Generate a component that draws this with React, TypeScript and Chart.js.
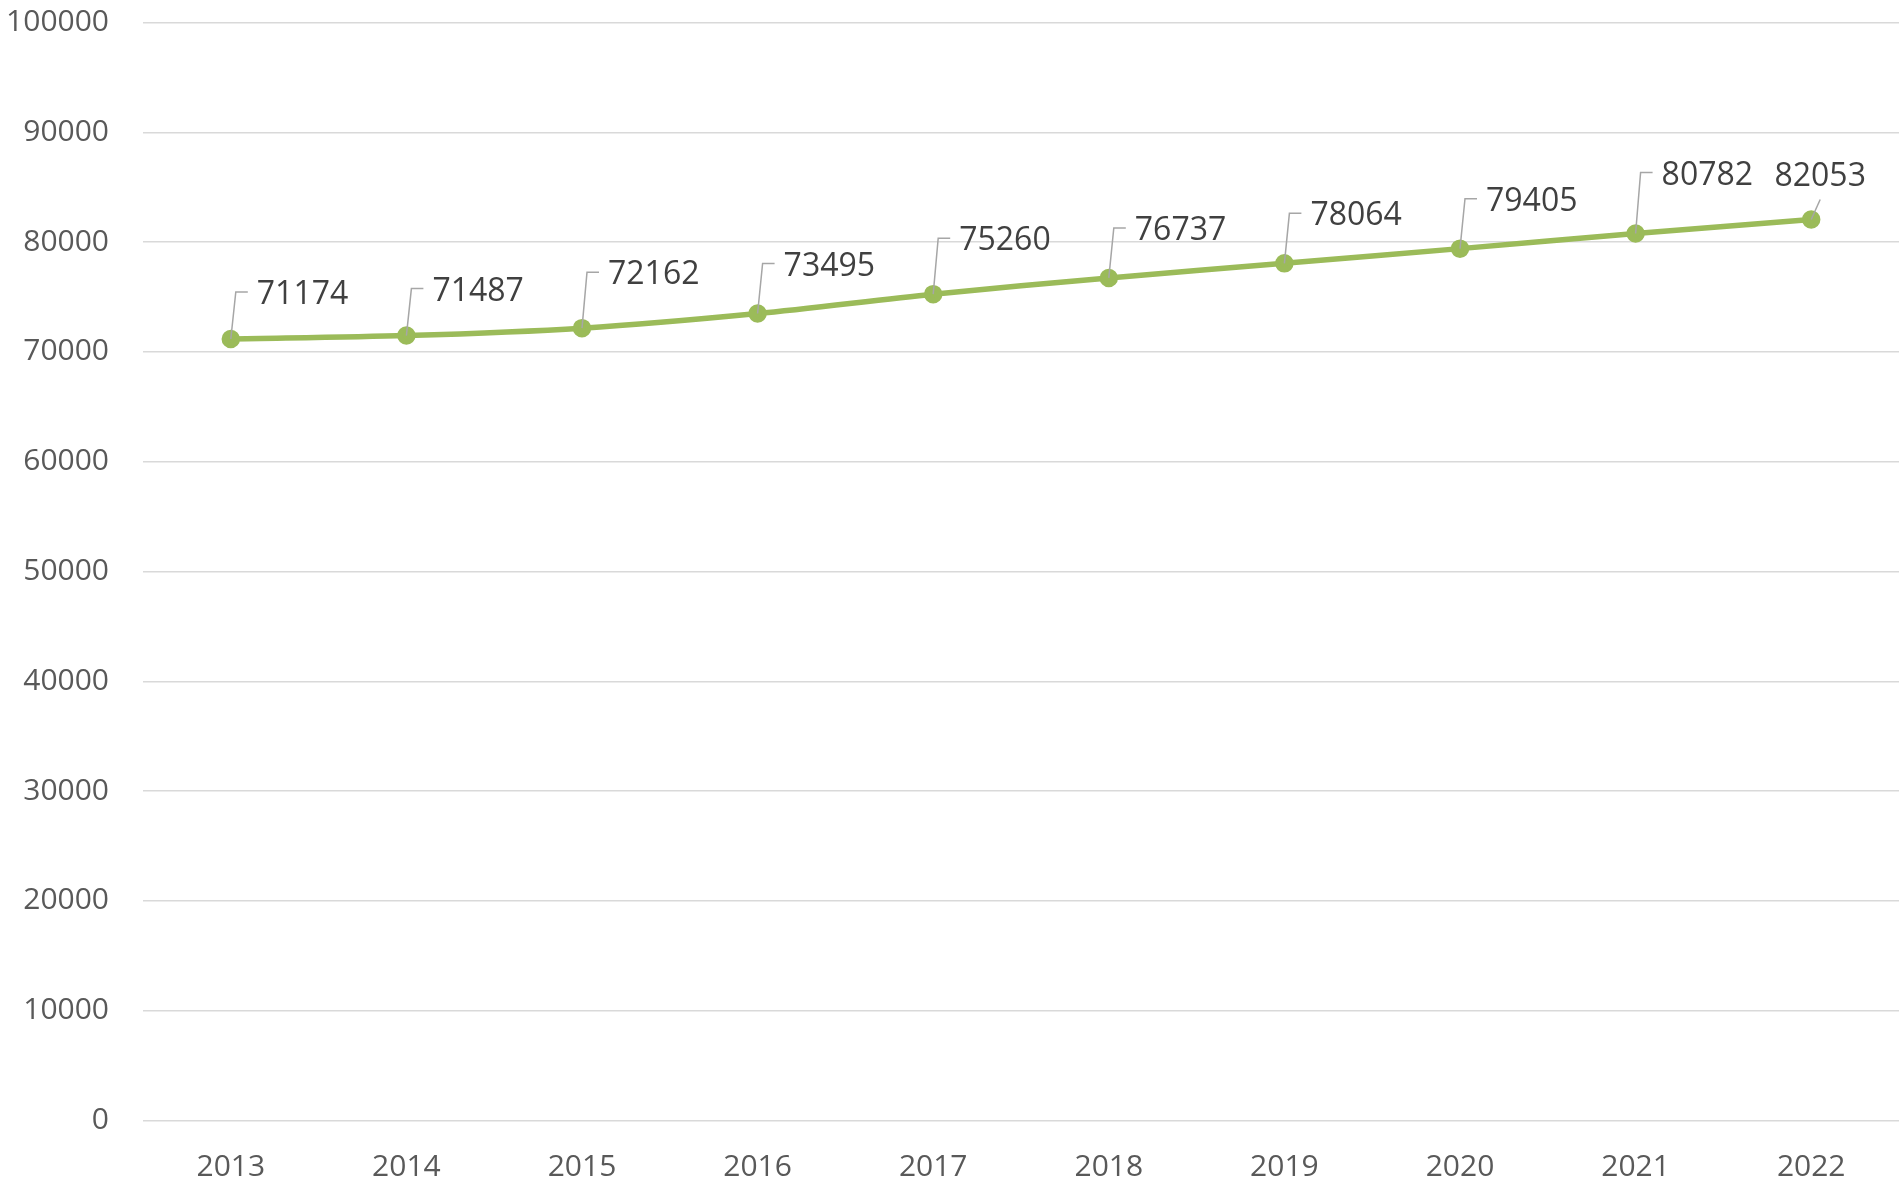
import React, { useEffect, useRef } from "react";
import { Chart, registerables } from "chart.js";

Chart.register(...registerables);

const years = ["2013", "2014", "2015", "2016", "2017", "2018", "2019", "2020", "2021", "2022"];
const values = [71174, 71487, 72162, 73495, 75260, 76737, 78064, 79405, 80782, 82053];
const yTicks = [0, 10000, 20000, 30000, 40000, 50000, 60000, 70000, 80000, 90000, 100000];
// vertical lift (px) of each data label above its point
const labelLift = [47, 47, 56, 50, 56, 50, 50, 50, 61, 46];

const GREEN = "#9BBB59";
const TEXT_DY = 3;

const labelPlugin = {
  id: "leaderLabels",
  afterDatasetsDraw(chart: any) {
    const ctx = chart.ctx;
    const meta = chart.getDatasetMeta(0);
    ctx.save();
    ctx.font = "32px 'Open Sans'";
    ctx.fillStyle = "#404040";
    ctx.textBaseline = "middle";
    meta.data.forEach((pt: any, i: number) => {
      const px = pt.x;
      const py = pt.y;
      const lift = labelLift[i];
      const text = String(values[i]);
      ctx.strokeStyle = "#A6A6A6";
      ctx.lineWidth = 1.5;
      ctx.beginPath();
      if (i === meta.data.length - 1) {
        ctx.moveTo(px, py);
        ctx.lineTo(px + 9, py - 20);
        ctx.stroke();
        ctx.textAlign = "center";
        ctx.fillText(text, px + 9, py - lift + TEXT_DY);
      } else {
        const ly = py - lift;
        ctx.moveTo(px, py);
        ctx.lineTo(px + 5, ly);
        ctx.lineTo(px + 17, ly);
        ctx.stroke();
        ctx.textAlign = "left";
        ctx.fillText(text, px + 26, ly + TEXT_DY);
      }
    });
    ctx.restore();
  },
};

const zeroPad = (scale: any) => {
  scale.paddingLeft = 0;
  scale.paddingRight = 0;
  scale.paddingTop = 0;
  scale.paddingBottom = 0;
};

export default function App() {
  const ref = useRef<HTMLCanvasElement | null>(null);
  useEffect(() => {
    document.body.style.margin = "0";
    document.body.style.overflow = "hidden";
    const chart = new Chart(ref.current as HTMLCanvasElement, {
      type: "line",
      data: {
        labels: years,
        datasets: [
          {
            data: values,
            borderColor: GREEN,
            backgroundColor: GREEN,
            borderWidth: 5.5,
            pointRadius: 6.5,
            pointBackgroundColor: GREEN,
            pointBorderColor: GREEN,
            tension: 0.3,
            fill: false,
          },
        ],
      },
      options: {
        animation: false,
        responsive: false,
        maintainAspectRatio: false,
        layout: { padding: { top: 22.5, right: 4, left: 0, bottom: 0 } },
        plugins: { legend: { display: false }, tooltip: { enabled: false } },
        scales: {
          x: {
            offset: true,
            grid: { display: false, drawTicks: false },
            border: { display: false },
            ticks: {
              color: "#595959",
              font: { family: "'Open Sans'", size: 30 },
              padding: 28.5,
              maxRotation: 0,
            },
            afterFit(scale: any) {
              scale.height = 60.5;
              zeroPad(scale);
            },
          },
          y: {
            min: 0,
            max: 100000,
            afterBuildTicks(scale: any) {
              scale.ticks = yTicks.map((v) => ({ value: v }));
            },
            grid: { color: "#D9D9D9", lineWidth: 1.5, drawTicks: false },
            border: { display: false },
            ticks: {
              color: "#595959",
              font: { family: "'Open Sans'", size: 30 },
              padding: 34,
              callback: (v: any) => String(v),
            },
            afterFit(scale: any) {
              scale.width = 143;
              zeroPad(scale);
            },
          },
        },
      },
      plugins: [labelPlugin],
    });
    return () => chart.destroy();
  }, []);
  return (
    <div style={{ width: 1903, height: 1181, overflow: "hidden" }}>
      <canvas ref={ref} width={1911} height={1181} style={{ display: "block" }} />
    </div>
  );
}
